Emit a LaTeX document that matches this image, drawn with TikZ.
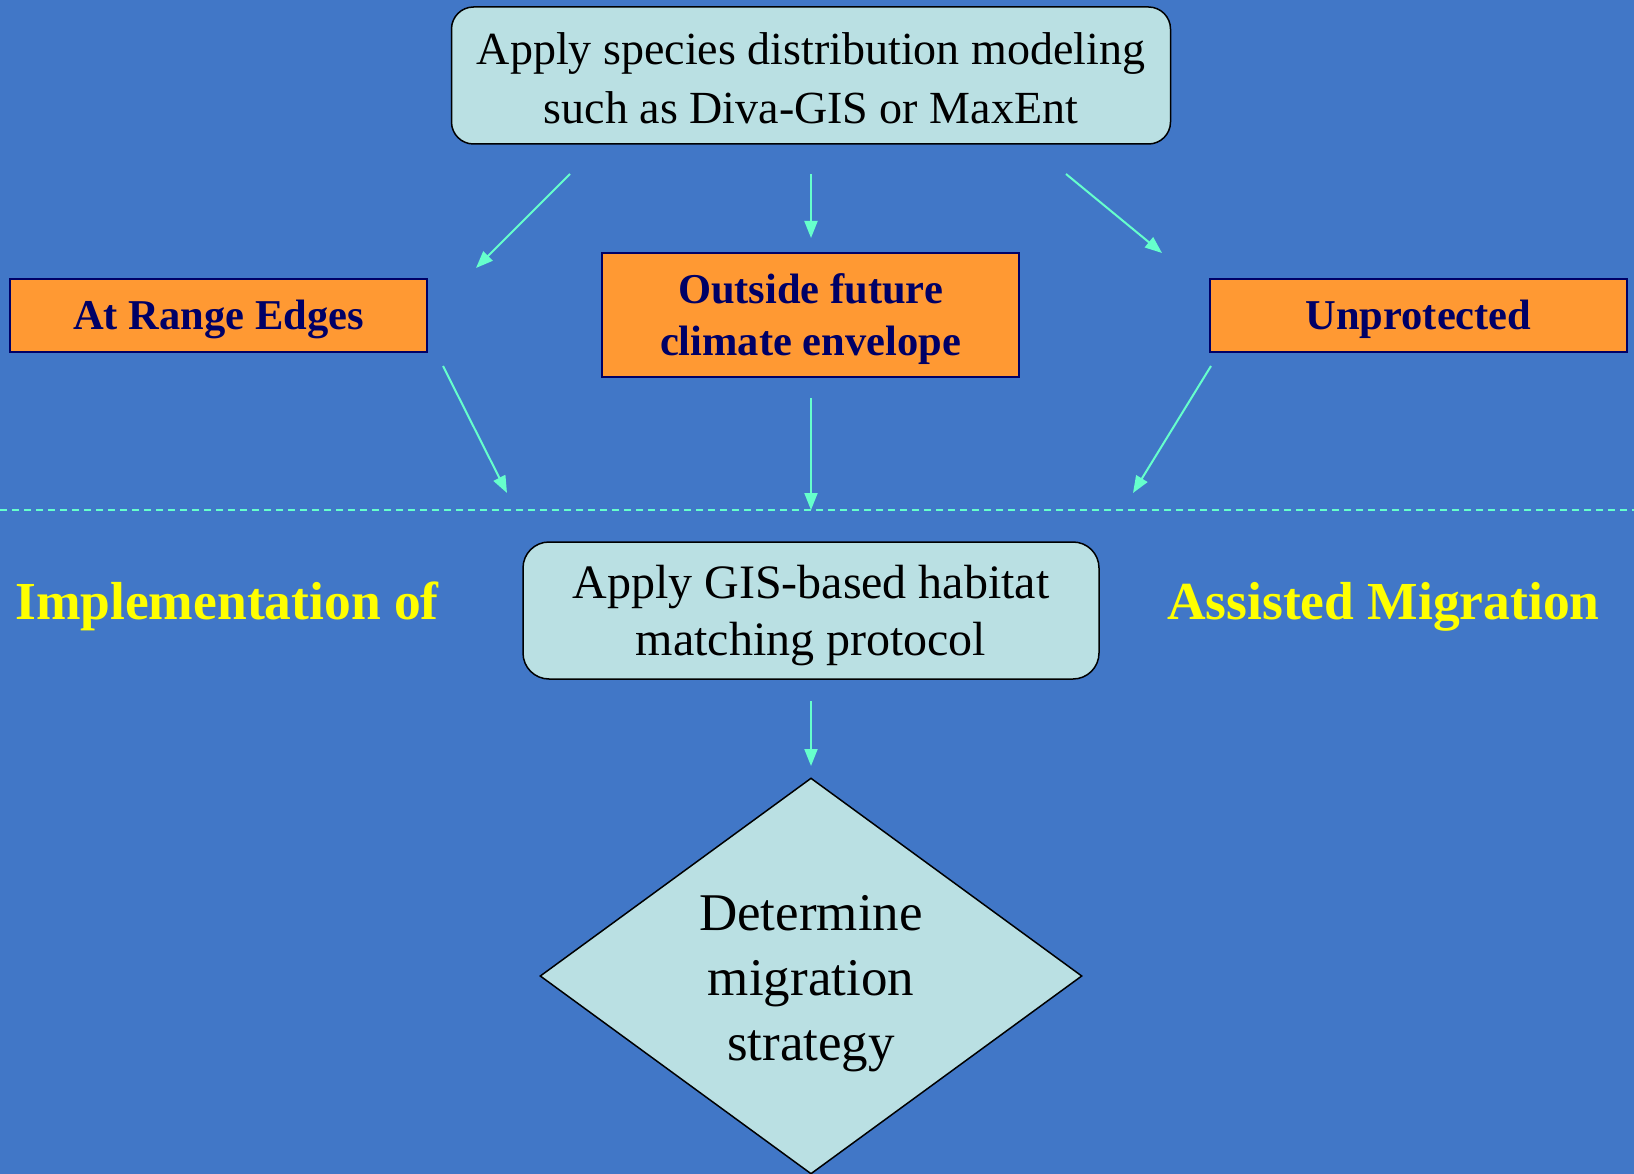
\documentclass[tikz,border=0pt]{standalone}
\usepackage{fontspec}
\setmainfont{Liberation Serif}
\usetikzlibrary{arrows.meta,shapes.geometric}
\definecolor{bgblue}{RGB}{65,119,199}
\definecolor{paleblue}{RGB}{186,224,227}
\definecolor{orangefill}{RGB}{255,153,51}
\definecolor{navytext}{RGB}{0,0,102}
\definecolor{aqua}{RGB}{102,255,204}
\definecolor{yellowtext}{RGB}{255,255,0}
\begin{document}
\begin{tikzpicture}[x=1pt,y=-1pt,
  roundbox/.style={draw=black, line width=1.5pt, fill=paleblue, rounded corners=22pt,
    align=center, inner sep=0pt},
  orangebox/.style={draw=navytext, line width=2pt, fill=orangefill, text=navytext,
    font=\bfseries\fontsize{42.5}{52}\selectfont, align=center, inner sep=0pt,
    minimum width=417pt, text depth=1.5pt},
  flowarrow/.style={draw=aqua, line width=2pt, -{Triangle[length=17pt,width=13pt]}},
  sidelabel/.style={text=yellowtext, font=\bfseries\fontsize{53.5}{62}\selectfont, inner sep=0pt}
]
\fill[bgblue] (0,0) rectangle (1634,1174);
\useasboundingbox (0,0) rectangle (1634,1174);

% nodes
\node[roundbox, minimum width=719pt, minimum height=137pt, text height=96pt,
  font=\fontsize{46}{59}\selectfont] (top) at (811,75.5)
  {Apply species distribution modeling\\such as Diva-GIS or MaxEnt};
\node[orangebox, minimum height=73pt] (edges) at (218.5,315.5) {At Range Edges};
\node[orangebox, minimum height=124pt] (outside) at (810.5,315) {Outside future\\climate envelope};
\node[orangebox, minimum height=73pt] (unprot) at (1418.5,315.5) {Unprotected};

\draw[aqua, line width=2pt, dash pattern=on 7pt off 5pt] (0,510) -- (1634,510);

\node[sidelabel, anchor=base west] (impl) at (15,619) {Implementation of};
\node[sidelabel, anchor=base west] (assist) at (1167,619) {Assisted Migration};

\node[roundbox, rounded corners=26pt, minimum width=576pt, minimum height=137pt,
  text depth=0pt, font=\fontsize{48}{57}\selectfont] (gis) at (811,610.5)
  {Apply GIS-based habitat\\matching protocol};

\node[diamond, draw=black, line width=1.5pt, fill=paleblue, inner sep=0pt,
  minimum width=542pt, minimum height=396pt] (dia) at (811,976) {};
\node[align=center, font=\fontsize{53}{65}\selectfont, inner sep=0pt] (diatext) at (811,984)
  {Determine\\migration\\strategy};

% arrow end points
\coordinate (a1s) at (570,174); \coordinate (a1e) at (476,268);
\coordinate (a2s) at (811,174); \coordinate (a2e) at (811,238);
\coordinate (a3s) at (1066,174); \coordinate (a3e) at (1162,253);
\coordinate (a4s) at (443,366); \coordinate (a4e) at (507,493);
\coordinate (a5s) at (811,398); \coordinate (a5e) at (811,510);
\coordinate (a6s) at (1211,366); \coordinate (a6e) at (1133,493);
\coordinate (a7s) at (811,701); \coordinate (a7e) at (811,766);

\draw[flowarrow] (a1s) -- (a1e);
\draw[flowarrow] (a2s) -- (a2e);
\draw[flowarrow] (a3s) -- (a3e);
\draw[flowarrow] (a4s) -- (a4e);
\draw[flowarrow] (a5s) -- (a5e);
\draw[flowarrow] (a6s) -- (a6e);
\draw[flowarrow] (a7s) -- (a7e);
\end{tikzpicture}
\end{document}
